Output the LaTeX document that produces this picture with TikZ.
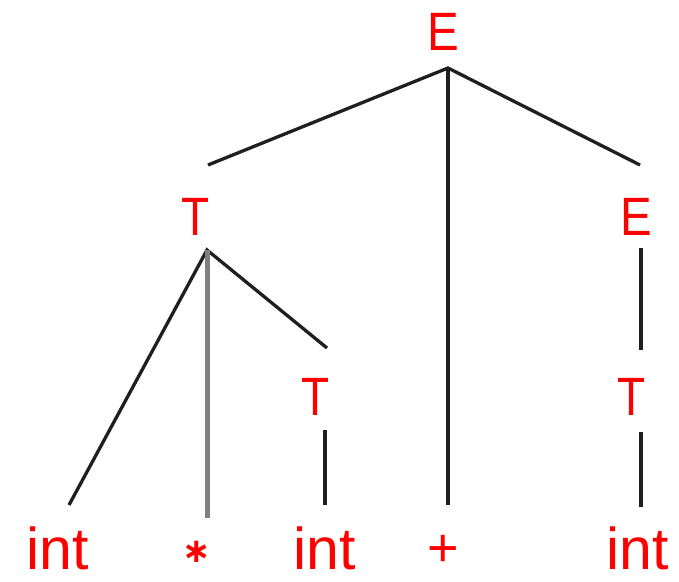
\documentclass[tikz,border=0pt]{standalone}
\usepackage{fontspec}
\setmainfont{Liberation Sans}
\newfontfamily\starfont{DejaVu Sans}
\begin{document}
\begin{tikzpicture}[x=1pt,y=-1pt,
  sym/.style={text=red,anchor=base,inner sep=0pt,font=\fontsize{54}{60}\selectfont},
  leaf/.style={text=red,anchor=base,inner sep=0pt,text depth=0pt,font=\fontsize{59}{62}\selectfont},
  edge/.style={draw=black!88,line width=3.3pt},
  gedge/.style={draw=black!50,line width=5pt}]
\useasboundingbox (0,0) rectangle (679,581);
% symbols
\node[sym] (E0) at (443,50) {\scalebox{0.88}[1]{E}};
\node[sym] (T1) at (196,235) {\scalebox{0.85}[1]{T}};
\node[sym] (E1) at (636,235) {\scalebox{0.88}[1]{E}};
\node[sym] (T2) at (316,415) {\scalebox{0.85}[1]{T}};
\node[sym] (T3) at (632,415) {\scalebox{0.85}[1]{T}};
\node[leaf] (L1) at (58,569) {int};
\node[text=red,inner sep=0pt,font=\starfont\bfseries\fontsize{34}{36}\selectfont] (L2) at (197,552) {∗};
\node[leaf] (L3) at (325,569) {int};
\node[sym,text depth=0pt] (L4) at (443,566) {+};
\node[leaf] (L5) at (638,569) {int};
% connector end points
\coordinate (E0b) at (448,68);
\coordinate (T1t) at (208,165);
\coordinate (E1t) at (640,165);
\coordinate (L4t) at (448,505);
\coordinate (T1b) at (207,250);
\coordinate (L1t) at (69,505);
\coordinate (L2t) at (207,518);
\coordinate (T2t) at (327,348);
\coordinate (T2b) at (325,430);
\coordinate (L3t) at (325,505);
\coordinate (E1b) at (641,248);
\coordinate (T3t) at (641,350);
\coordinate (T3b) at (641,432);
\coordinate (L5t) at (641,507);
% connectors
\draw[edge] (T1t) -- (E0b) -- (E1t);
\draw[edge] (E0b) -- (L4t);
\draw[edge] (L1t) -- (T1b) -- (T2t);
\draw[gedge] (T1b) -- (L2t);
\draw[edge] (T2b) -- (L3t);
\draw[edge] (E1b) -- (T3t);
\draw[edge] (T3b) -- (L5t);
\end{tikzpicture}
\end{document}
